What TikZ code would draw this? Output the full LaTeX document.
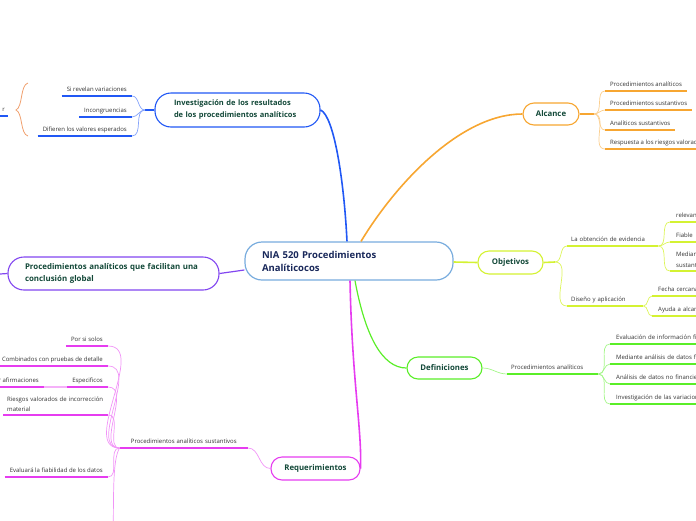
\documentclass[tikz,border=0pt]{standalone}
\usepackage{fontspec}
\setmainfont{Open Sans}
\definecolor{cblue}{RGB}{33,88,245}
\definecolor{corange}{RGB}{247,166,49}
\definecolor{cyel}{RGB}{212,242,50}
\definecolor{cgreen}{RGB}{90,238,40}
\definecolor{cmag}{RGB}{230,60,240}
\definecolor{cpurp}{RGB}{130,70,240}
\definecolor{cmain}{RGB}{120,172,222}
\definecolor{ttopic}{RGB}{18,72,56}
\definecolor{tmain}{RGB}{25,40,90}
\definecolor{tleaf}{RGB}{50,50,50}
\definecolor{cbrace}{RGB}{240,160,110}
\tikzset{
  topic/.style={draw=#1, line width=1.1pt, rounded corners=11pt, fill=white,
    font=\fontsize{7.8}{10}\selectfont\bfseries, text=ttopic, inner sep=0pt, minimum height=22pt},
  bigtopic/.style={draw=#1, line width=1.1pt, rounded corners=16pt, fill=white,
    font=\fontsize{7.5}{12}\selectfont\bfseries, text=ttopic, inner ysep=0pt, align=left},
  leafbase/.style={font=\fontsize{6}{11}\selectfont, text=tleaf, inner xsep=5pt, inner ysep=3pt},
  leaf/.style={leafbase, text depth=1.5pt},
  leafL/.style={leaf, anchor=south west, align=left},
  leafR/.style={leaf, anchor=south east, align=right},
  leafM/.style={leafbase, anchor=south west, align=left, inner ysep=3.5pt},
  ul/.style={draw=#1, line width=1.6pt},
  thinc/.style={draw=#1, line width=0.7pt},
  branch/.style={draw=#1, line width=1.6pt},
}
\begin{document}
\begin{tikzpicture}[x=1pt,y=-1pt]
\useasboundingbox (0,0) rectangle (696,520);
\clip (0,0) rectangle (696,520);

% central node
\node[draw=cmain, line width=1.2pt, rounded corners=17pt, fill=white, minimum width=208pt,
  minimum height=38pt, text width=174pt, align=left, inner xsep=17pt, inner ysep=0pt,
  font=\fontsize{9.5}{13}\selectfont\bfseries, text=tmain] (c) at (349,261)
  {NIA 520 Procedimientos\\Analíticocos};

% topics
\node[bigtopic=cblue, minimum width=165pt, minimum height=34pt, text width=127pt, inner xsep=19pt] (inv) at (237.5,110)
  {Investigación de los resultados\\de los procedimientos analíticos};
\node[topic=corange, minimum width=56pt] (alc) at (551,114) {Alcance};
\node[topic=cyel, minimum width=65pt, minimum height=23pt] (obj) at (510.5,262.5) {Objetivos};
\node[topic=cgreen, minimum width=75pt] (def) at (444.5,368) {Definiciones};
\node[topic=cmag, minimum width=89pt, minimum height=23pt] (req) at (315.5,468.5) {Requerimientos};
\node[bigtopic=cpurp, minimum width=211pt, minimum height=33pt, text width=177pt, inner xsep=17pt,
  font=\fontsize{7.9}{12}\selectfont\bfseries] (pur) at (113.5,273.5)
  {Procedimientos analíticos que facilitan una\\conclusión global};

% main branches
\draw[branch=cblue] ([xshift=-2pt]c.north) .. controls (344,180) and (334,116) .. (inv.east);
\draw[branch=corange] ([xshift=12pt]c.north) .. controls (395,185) and (460,114) .. (alc.west);
\draw[branch=cyel] ([yshift=-1pt]c.east) -- (obj.west);
\draw[branch=cgreen, line width=1.2pt] ([xshift=6pt]c.south) .. controls (365,335) and (382,368) .. (def.west);
\draw[branch=cmag] ([xshift=1pt]c.south) .. controls (352,380) and (362,430) .. (req.east);
\draw[branch=cpurp, line width=1.2pt] ([yshift=-9pt]c.west) -- (pur.east);
\coordinate (pl) at (0,274);
\draw[branch=cpurp, line width=1.2pt] (pur.west) -- (pl);

% ---------- Alcance ----------
\coordinate (as) at (594,114);
\draw[branch=corange] (alc.east) -- (as);
\node[leafL] (a1) at (605,91) {Procedimientos analíticos};
\node[leafL] (a2) at (605,110) {Procedimientos sustantivos};
\node[leafL] (a3) at (605,130) {Analíticos sustantivos};
\node[leafL] (a4) at (605,149) {Respuesta a los riesgos valorados};
\foreach \n in {a1,a2,a3,a4}{
  \draw[thinc=corange!55] (as) to[out=0,in=180] (\n.south west);
  \draw[ul=corange] (\n.south west) -- (\n.south east);
}

% ---------- Investigación ----------
\coordinate (is) at (145,110);
\draw[branch=cblue] (inv.west) -- (is);
\node[leafR] (i1) at (132,96) {Si revelan variaciones};
\node[leafR] (i2) at (132,117) {Incongruencias};
\node[leafR] (i3) at (132,136) {Difieren los valores esperados};
\foreach \n in {i1,i2,i3}{
  \draw[thinc=cblue!55] (is) to[out=180,in=0] (\n.south east);
  \draw[ul=cblue] (\n.south west) -- (\n.south east);
}
\node[leafR, inner xsep=3pt] (rr) at (8,116) {r};
\draw[ul=cblue] (rr.south west) -- (rr.south east);
\coordinate (b1) at (28,83);
\coordinate (b2) at (16,110);
\coordinate (b3) at (28,136);
\draw[cbrace, line width=0.8pt] (b1) .. controls (20,85) and (23,107) .. (b2)
  .. controls (23,113) and (20,134) .. (b3);

% ---------- Objetivos ----------
\coordinate (os) at (555,262);
\draw[branch=cyel] (obj.east) -- (os);
\node[leafL, text width=83pt, inner xsep=4pt] (o1) at (567,246) {La obtención de evidencia};
\node[leafL, text width=68pt, inner xsep=4pt] (o2) at (567,306) {Diseño y aplicación};
\foreach \n in {o1,o2}{
  \draw[thinc=cyel!80] (os) to[out=0,in=180] (\n.south west);
  \draw[ul=cyel] (\n.south west) -- (\n.south east);
}
\node[leafL, text width=60pt, inner xsep=6pt] (o11) at (670,222) {relevante};
\node[leafL, text width=60pt, inner xsep=6pt] (o12) at (670,242) {Fiable};
\node[leafM, text width=60pt, inner xsep=6pt] (o13) at (670,271) {Mediante\\sustantivos};
\foreach \n in {o11,o12,o13}{
  \draw[thinc=cyel!80] (o1.south east) to[out=0,in=180] (\n.south west);
  \draw[ul=cyel] (\n.south west) -- (\n.south east);
}
\node[leafL, text width=60pt, inner xsep=6pt] (o21) at (652,296) {Fecha cercana a};
\node[leafL, text width=60pt, inner xsep=6pt] (o22) at (652,316) {Ayuda a alcanzar};
\foreach \n in {o21,o22}{
  \draw[thinc=cyel!80] (o2.south east) to[out=0,in=180] (\n.south west);
  \draw[ul=cyel] (\n.south west) -- (\n.south east);
}

% ---------- Definiciones ----------
\node[leafL, text width=83pt, inner xsep=4pt] (d1) at (507,374) {Procedimientos analíticos};
\draw[thinc=cgreen!55] (def.east) to[out=0,in=180] (d1.south west);
\draw[ul=cgreen] (d1.south west) -- (d1.south east);
\node[leafL, text width=120pt, inner xsep=6pt] (d11) at (610,344) {Evaluación de información financiera};
\node[leafL, text width=120pt, inner xsep=6pt] (d12) at (610,364) {Mediante análisis de datos financieros};
\node[leafL, text width=120pt, inner xsep=6pt] (d13) at (610,384) {Análisis de datos no financieros};
\node[leafL, text width=120pt, inner xsep=6pt] (d14) at (610,404) {Investigación de las variaciones};
\foreach \n in {d11,d12,d13,d14}{
  \draw[thinc=cgreen!55] (d1.south east) to[out=0,in=180] (\n.south west);
  \draw[ul=cgreen] (\n.south west) -- (\n.south east);
}

% ---------- Requerimientos ----------
\node[leaf, anchor=south east, align=center, text width=118pt] (r1) at (248,448) {Procedimientos analíticos sustantivos};
\draw[thinc=cmag!55] (req.west) to[out=180,in=0] (r1.south east);
\draw[ul=cmag] (r1.south west) -- (r1.south east);
\node[leafR] (r11) at (108,346) {Por si solos};
\node[leafR] (r12) at (108,366) {Combinados con pruebas de detalle};
\node[leafR] (r13) at (108,387) {Especificos};
\node[leafM, text width=97pt, inner xsep=4pt, font=\fontsize{6}{10}\selectfont] (r14) at (3,415)
  {\mbox{Riesgos valorados de incorrección}\\material};
\node[leafR] (r15) at (108,477) {Evaluará la fiabilidad de los datos};
\foreach \n in {r11,r12,r13,r15}{
  \draw[thinc=cmag!55] (r1.south west) to[out=180,in=0] (\n.south east);
  \draw[ul=cmag] (\n.south west) -- (\n.south east);
}
\draw[thinc=cmag!55] (r1.south west) to[out=180,in=0] (r14.south east);
\draw[ul=cmag] (r14.south west) -- (r14.south east);
\coordinate (rdown) at (113,540);
\draw[thinc=cmag!55] (r1.south west) .. controls (112,460) and (114,500) .. (rdown);
\node[leafR] (r131) at (44,387) {por afirmaciones};
\draw[cmag!40, line width=1.6pt] (r13.south west) -- (r131.south east);
\draw[ul=cmag] (r131.south west) -- (r131.south east);
\end{tikzpicture}
\end{document}
